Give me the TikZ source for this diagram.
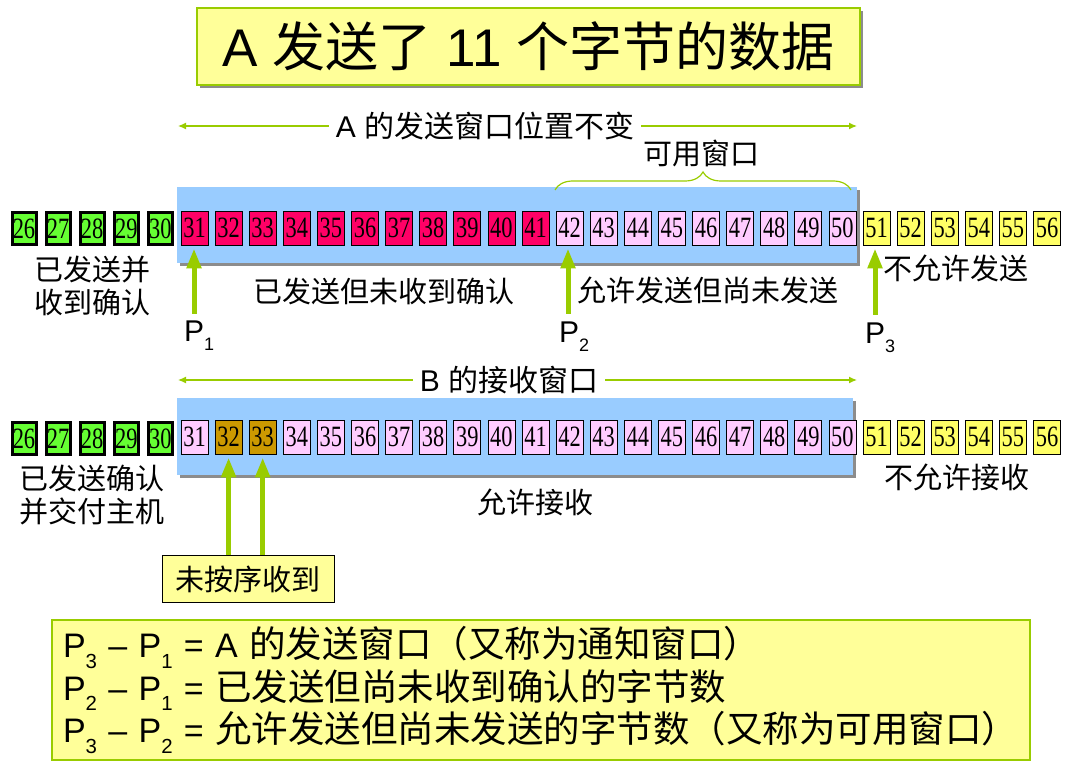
\documentclass[tikz,border=0pt]{standalone}
\usepackage{fontspec}
\setmainfont{Liberation Sans}
\newfontfamily\cjk{Noto Sans CJK SC}
\newfontfamily\cellfont[FakeStretch=0.76]{Liberation Serif}
\usetikzlibrary{arrows.meta,decorations.pathreplacing,shadows}
\definecolor{ygreen}{HTML}{99CC00}
\definecolor{lyellow}{HTML}{FFFF99}
\definecolor{winblue}{HTML}{99CCFF}
\definecolor{cgreen}{HTML}{66FF33}
\definecolor{cred}{HTML}{FF0066}
\definecolor{cpink}{HTML}{FFCCFF}
\definecolor{cyel}{HTML}{FFFF66}
\definecolor{cbrown}{HTML}{CC9900}
\newcommand{\Psb}[1]{P\raisebox{-0.3em}{\fontsize{0.6em}{0.6em}\selectfont #1}}
\newcommand{\bcj}[1]{{\cjk\fontsize{36.5}{42.5}\selectfont #1}}
\begin{document}
\begin{tikzpicture}[x=1pt,y=-1pt,
  cell/.style={draw, line width=0.8pt, minimum width=27pt, minimum height=34pt, inner sep=0pt, font=\cellfont\fontsize{29.5}{29.5}\selectfont},
  gcell/.style={cell, fill=cgreen, line width=3pt, minimum width=24pt, minimum height=32pt},
  rcell/.style={cell, fill=cred},
  pcell/.style={cell, fill=cpink},
  ycell/.style={cell, fill=cyel},
  bcell/.style={cell, fill=cbrown},
  winbox/.style={fill=winblue, inner sep=0pt, drop shadow={shadow xshift=3pt, shadow yshift=-3pt, fill=gray!90, opacity=1}},
  lbl/.style={font=\cjk\fontsize{29}{33}\selectfont, align=center, inner sep=0pt},
  wlbl/.style={font=\cjk\fontsize{30}{33}\selectfont, inner sep=0pt, inner xsep=7pt},
  thinarr/.style={ygreen, line width=1.3pt, -{Latex[length=8pt,width=7pt]}},
  thickarr/.style={ygreen, line width=5pt, -{Triangle[width=14pt,length=20pt]}},
  plbl/.style={font=\fontsize{30}{30}\selectfont, inner sep=0pt, anchor=west}
]
\useasboundingbox (0,0) rectangle (1073,775);
% title
\node[draw=ygreen, line width=1.5pt, fill=lyellow, minimum width=663pt, minimum height=77pt,
  drop shadow={shadow xshift=3pt, shadow yshift=-3pt, fill=gray!90, opacity=1},
  font=\fontsize{53}{53}\selectfont] (title) at (528.5,46.5) {A {\cjk 发送了} 11 {\cjk 个字节的数据}};
% windows
\node[winbox, minimum width=680pt, minimum height=76pt] (winA) at (517,225) {};
\node[winbox, minimum width=676pt, minimum height=77pt] (winB) at (515,436.5) {};
% top cells
\foreach \n in {26,...,30}{\pgfmathsetmacro\xx{24+(\n-26)*34.1}\node[gcell] (c\n) at (\xx,228.5) {\n};}
\foreach \n in {31,...,41}{\pgfmathsetmacro\xx{24+(\n-26)*34.1}\node[rcell] (c\n) at (\xx,228) {\n};}
\foreach \n in {42,...,50}{\pgfmathsetmacro\xx{24+(\n-26)*34.1}\node[pcell] (c\n) at (\xx,228) {\n};}
\foreach \n in {51,...,56}{\pgfmathsetmacro\xx{24+(\n-26)*34.1}\node[ycell] (c\n) at (\xx,228) {\n};}
% bottom cells
\foreach \n in {26,...,30}{\pgfmathsetmacro\xx{24+(\n-26)*34.1}\node[gcell] (d\n) at (\xx,438.5) {\n};}
\foreach \n in {31,34,35,...,50}{\pgfmathsetmacro\xx{24+(\n-26)*34.1}\node[pcell] (d\n) at (\xx,437) {\n};}
\foreach \n in {32,33}{\pgfmathsetmacro\xx{24+(\n-26)*34.1}\node[bcell] (d\n) at (\xx,437) {\n};}
\foreach \n in {51,...,56}{\pgfmathsetmacro\xx{24+(\n-26)*34.1}\node[ycell] (d\n) at (\xx,437) {\n};}
% window labels
\node[wlbl] (wa) at (485,126) {\rmfamily A {\cjk 的发送窗口位置不变}};
\coordinate (waL) at (178,126);
\coordinate (waR) at (857,126);
\draw[thinarr] (wa.west) -- (waL);
\draw[thinarr] (wa.east) -- (waR);
\node[wlbl] (wb) at (509,380) {\rmfamily B {\cjk 的接收窗口}};
\coordinate (wbL) at (178,380);
\coordinate (wbR) at (857,380);
\draw[thinarr] (wb.west) -- (wbL);
\draw[thinarr] (wb.east) -- (wbR);
% brace
\coordinate (brL) at (555,190);
\coordinate (brR) at (851,190);
\draw[ygreen, line width=1.2pt, decorate, decoration={brace, amplitude=18pt}] (brL) -- (brR);
\node[lbl] (avail) at (701,153) {可用窗口};
% top labels
\node[lbl] (l1) at (92,286) {已发送并\\收到确认};
\node[lbl] (l2) at (384,291) {已发送但未收到确认};
\node[lbl] (l3) at (708,290) {允许发送但尚未发送};
\node[lbl] (l4) at (956,268) {不允许发送};
% pointers
\coordinate (p1s) at (194,314);
\coordinate (p2s) at (568,314);
\coordinate (p3s) at (875,315);
\draw[thickarr, shorten >=3pt] (p1s) -- (p1s |- c31.south);
\draw[thickarr, shorten >=3pt] (p2s) -- (p2s |- c42.south);
\draw[thickarr, shorten >=3pt] (p3s) -- (p3s |- c51.south);
\node[plbl] (P1) at (184,336) {\Psb{1}};
\node[plbl] (P2) at (559,337) {\Psb{2}};
\node[plbl] (P3) at (865,338) {\Psb{3}};
% bottom labels
\node[lbl] (m1) at (92,495) {已发送确认\\并交付主机};
\node[lbl] (m2) at (535,502) {允许接收};
\node[lbl] (m3) at (957,477) {不允许接收};
\node[draw, line width=0.8pt, fill=lyellow, minimum width=172pt, minimum height=47pt, font=\cjk\fontsize{29}{29}\selectfont] (ooo) at (248,579) {未按序收到};
\draw[thickarr, shorten >=3pt] (ooo.north -| d32) -- (d32.south);
\draw[thickarr, shorten >=3pt] (ooo.north -| d33) -- (d33.south);
% definitions box
\node[draw=ygreen, line width=1.5pt, fill=lyellow, minimum height=140pt, text width=956pt, inner xsep=11pt, align=left,
  font=\fontsize{34}{42.5}\selectfont] (defs) at (541,690)
  {\Psb{3} – \Psb{1} = A \bcj{的发送窗口（又称为通知窗口）}\\
   \Psb{2} – \Psb{1} = \bcj{已发送但尚未收到确认的字节数}\\
   \Psb{3} – \Psb{2} = \bcj{允许发送但尚未发送的字节数（又称为可用窗口）}};
\end{tikzpicture}
\end{document}
